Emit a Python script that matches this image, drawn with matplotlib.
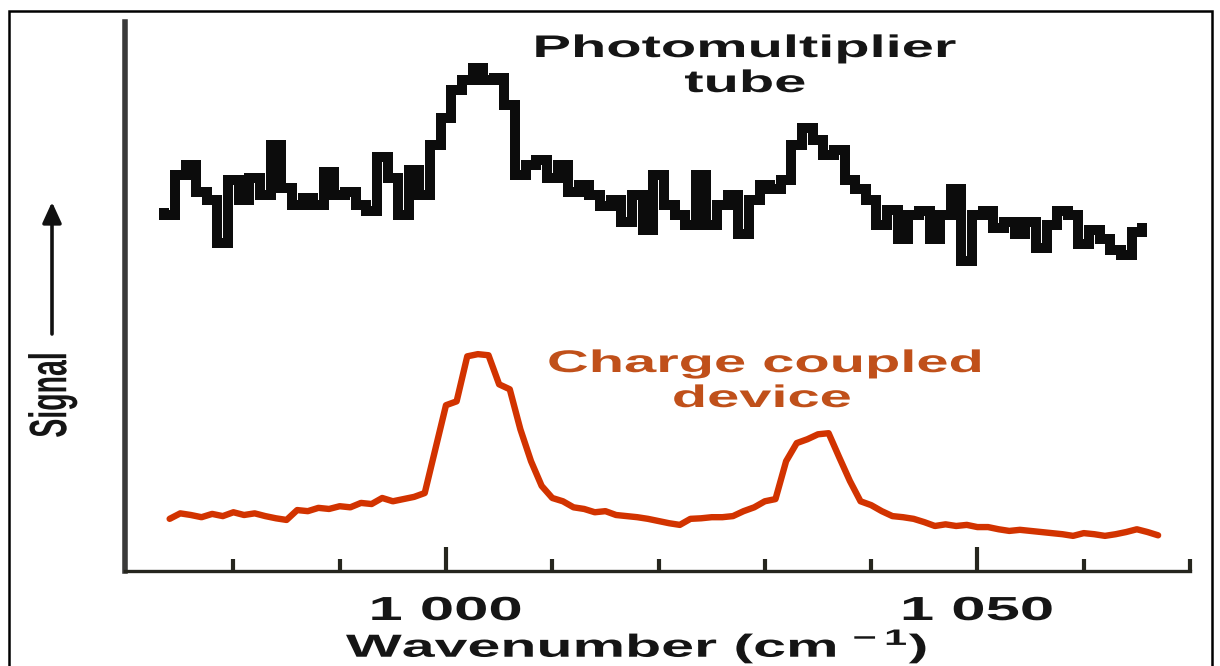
import matplotlib
matplotlib.use("Agg")
import numpy as np
import matplotlib.pyplot as plt
from matplotlib import patheffects
from matplotlib.transforms import Affine2D
from matplotlib.patches import FancyArrowPatch, Rectangle

plt.rcParams['font.family'] = ['Liberation Sans', 'DejaVu Sans']
plt.rcParams['mathtext.fontset'] = 'custom'
plt.rcParams['mathtext.rm'] = 'Liberation Sans:bold'
plt.rcParams['mathtext.it'] = 'Liberation Sans:bold:italic'
plt.rcParams['mathtext.bf'] = 'Liberation Sans:bold'

# ---- spectra (arbitrary signal units, 1 cm^-1 sampling) ----
pmt_start = 973
pmt_signal = [
    65.3, 64.9, 72.2, 74.0, 69.1, 67.6, 59.8, 71.3, 67.6, 71.6,
    68.5, 77.6, 69.8, 66.7, 68.0, 66.7, 72.7, 68.5, 69.1, 66.7,
    65.5, 75.5, 71.6, 64.9, 73.1, 68.5, 77.6, 82.5, 87.6, 89.5,
    91.6, 89.5, 89.8, 84.9, 72.2, 74.0, 74.9, 71.6, 74.0, 69.1,
    70.4, 68.5, 66.4, 67.6, 63.6, 68.5, 62.2, 72.2, 66.7, 64.9,
    63.1, 72.2, 63.1, 66.7, 68.5, 61.3, 67.6, 70.4, 69.5, 71.3,
    77.6, 80.7, 78.5, 75.8, 76.7, 71.3, 69.5, 67.6, 63.1, 65.8,
    60.4, 64.9, 65.5, 60.4, 64.9, 69.5, 56.4, 64.9, 65.5, 62.5,
    63.6, 61.3, 63.6, 58.9, 63.1, 65.5, 64.9, 59.5, 62.2, 60.4,
    58.5, 57.6, 61.8, 62.5,
]

ccd_start = 974
ccd_signal = [
    9.5, 10.5, 10.2, 9.8, 10.4, 10.0, 10.7, 10.2, 10.5, 10.0,
    9.6, 9.3, 11.1, 10.9, 11.5, 11.3, 11.8, 11.6, 12.4, 12.2,
    13.3, 12.7, 13.1, 13.5, 14.2, 22.2, 30.2, 30.9, 39.1, 39.5,
    39.3, 34.0, 33.1, 25.8, 20.0, 15.5, 13.3, 12.7, 11.6, 11.3,
    10.7, 10.9, 10.2, 10.0, 9.8, 9.5, 9.1, 8.7, 8.4, 9.5,
    9.6, 9.8, 9.8, 10.0, 10.9, 11.6, 12.7, 13.1, 20.0, 23.3,
    24.0, 24.9, 25.1, 20.7, 16.4, 12.7, 12.0, 10.9, 10.0, 9.8,
    9.5, 8.9, 8.2, 8.5, 8.2, 8.4, 8.0, 8.0, 7.6, 7.3,
    7.5, 7.3, 7.1, 6.9, 6.7, 6.4, 6.9, 6.7, 6.4, 6.7,
    7.1, 7.6, 7.1, 6.5,
]

major_ticks = [1000, 1050]
major_labels = ['1 000', '1 050']
minor_ticks = [980, 990, 1010, 1020, 1030, 1040, 1060, 1070]

pmt_label = ['Photomultiplier', 'tube']
ccd_label = ['Charge coupled', 'device']

PMT_COLOR = '#0c0c0c'
CCD_COLOR = '#d23300'
CCD_TEXT = '#c0501a'
INK = '#151515'

W, H = 1220, 666


class HStretch(patheffects.AbstractPathEffect):
    """Draw glyph outlines widened horizontally about their own centre."""

    def __init__(self, factor):
        super().__init__()
        self._factor = factor

    def draw_path(self, renderer, gc, tpath, affine, rgbFace=None):
        bb = tpath.get_extents(affine)
        cx = 0.5 * (bb.x0 + bb.x1)
        widen = Affine2D().translate(-cx, 0).scale(self._factor, 1.0).translate(cx, 0)
        renderer.draw_path(gc, tpath, affine + widen, rgbFace)


wide = [HStretch(1.85)]


def fx(px):
    return px / W


def fy(py):
    return 1 - py / H


fig = plt.figure(figsize=(W / 100, H / 100), dpi=100)
fig.patch.set_facecolor('white')

ax = fig.add_axes([fx(125), fy(571), (1190 - 125) / W, (571 - 22) / H])
ax.set_facecolor('none')

pmt_x = np.arange(pmt_start, pmt_start + len(pmt_signal))
ccd_x = np.arange(ccd_start, ccd_start + len(ccd_signal))

ax.plot(pmt_x, pmt_signal, color=PMT_COLOR, lw=7.2, drawstyle='steps-mid',
        solid_joinstyle='miter', solid_capstyle='butt')
ax.plot(ccd_x, ccd_signal, color=CCD_COLOR, lw=4.6,
        solid_joinstyle='round', solid_capstyle='round')

ax.set_xlim(969.8, 1070)
ax.set_ylim(0, 100)

for side in ('top', 'right'):
    ax.spines[side].set_visible(False)
ax.spines['left'].set_linewidth(4.0)
ax.spines['left'].set_color('#3a3a3a')
ax.spines['bottom'].set_linewidth(2.4)
ax.spines['bottom'].set_color('#26261e')

ax.set_yticks([])
ax.set_xticks(major_ticks, labels=major_labels)
ax.set_xticks(minor_ticks, minor=True)
ax.tick_params(axis='x', which='major', direction='in', length=17, width=3.0,
               color='#26261e', pad=18, labelsize=24, labelcolor=INK)
ax.tick_params(axis='x', which='minor', direction='in', length=8.5, width=3.0,
               color='#26261e')
for lbl in ax.get_xticklabels():
    lbl.set_fontweight('bold')
    lbl.set_path_effects(wide)

ax.set_xlabel('Wavenumber (cm$^{\\,-1}$)', fontsize=23, fontweight='bold',
              color=INK, path_effects=wide)
ax.xaxis.label.set_va('baseline')
ax.xaxis.set_label_coords((637 - 125) / 1065, (571 - 657) / 549)

# curve captions
fig.text(fx(745), fy(57), pmt_label[0], ha='center', va='baseline',
         fontsize=22.5, fontweight='bold', color=INK, path_effects=wide)
fig.text(fx(745), fy(92), pmt_label[1], ha='center', va='baseline',
         fontsize=22.5, fontweight='bold', color=INK, path_effects=wide)
fig.text(fx(765), fy(372), ccd_label[0], ha='center', va='baseline',
         fontsize=22.5, fontweight='bold', color=CCD_TEXT, path_effects=wide)
fig.text(fx(762), fy(407), ccd_label[1], ha='center', va='baseline',
         fontsize=22.5, fontweight='bold', color=CCD_TEXT, path_effects=wide)

# vertical "Signal" label with its arrow
fig.text(fx(53), fy(395), 'Signal', rotation=90, ha='center', va='center',
         fontsize=20.5, fontweight='bold', color=INK, path_effects=wide)
fig.add_artist(FancyArrowPatch((fx(52), fy(334)), (fx(52), fy(202)),
                               transform=fig.transFigure,
                               arrowstyle='-|>,head_length=0.7,head_width=0.32',
                               mutation_scale=18, lw=2.6, color='#111111',
                               shrinkA=0, shrinkB=0))

# outer frame
fig.add_artist(Rectangle((fx(9), -0.05), fx(1212) - fx(9), fy(11) + 0.05,
                         transform=fig.transFigure, fill=False,
                         lw=1.8, ec='black'))

fig.savefig('out.png', dpi=100, facecolor='white')
